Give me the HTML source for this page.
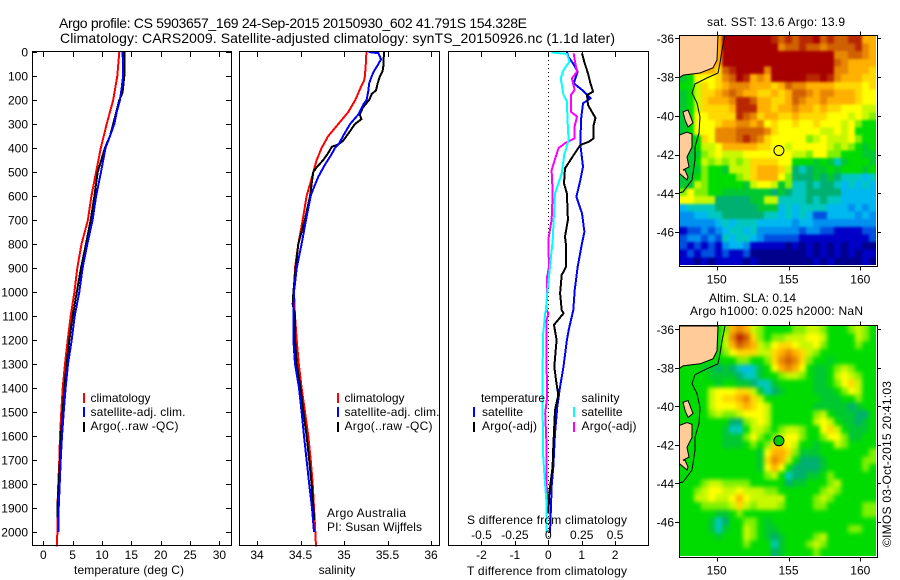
<!DOCTYPE html>
<html lang="en">
<head>
<meta charset="utf-8">
<title>Argo profile chart</title>
<style>
html,body{margin:0;padding:0;background:#fff;}
svg{display:block;}
text{font-family:"Liberation Sans",sans-serif;font-size:12px;fill:#000;}
.ttl{font-size:14px;}
</style>
</head>
<body>
<svg id="root" xmlns="http://www.w3.org/2000/svg" width="900" height="580" viewBox="0 0 900 580">
  <defs>
    <filter id="slaBlur" x="-5%" y="-5%" width="110%" height="110%" color-interpolation-filters="sRGB">
      <feGaussianBlur stdDeviation="2.2"/>
    </filter>
    <filter id="sstBlur" x="-5%" y="-5%" width="110%" height="110%" color-interpolation-filters="sRGB">
      <feGaussianBlur stdDeviation="1.2"/>
    </filter>
    <clipPath id="clipSst"><rect x="680" y="36" width="196" height="229"/></clipPath>
    <clipPath id="clipSla"><rect x="680" y="326" width="196" height="230"/></clipPath>
  </defs>
  <rect x="0" y="0" width="900" height="580" fill="#fff"/>

  <text class="ttl" x="59" y="28" textLength="468">Argo profile: CS 5903657_169 24-Sep-2015 20150930_602 41.791S 154.328E</text>
  <text class="ttl" x="60" y="43" textLength="555">Climatology: CARS2009. Satellite-adjusted climatology: synTS_20150926.nc (1.1d later)</text>

  <g id="panels"></g>

  <text x="74" y="574" textLength="110">temperature (deg C)</text>
  <text x="337" y="574" text-anchor="middle">salinity</text>
  <text x="467" y="575" textLength="160">T difference from climatology</text>
  <text x="467" y="524" textLength="160">S difference from climatology</text>

  <g>
    <rect x="83" y="393" width="2" height="10" fill="#f00"/>
    <text x="90.5" y="402">climatology</text>
    <rect x="83" y="407" width="2" height="10" fill="#00f"/>
    <text x="90.5" y="416" textLength="95">satellite-adj. clim.</text>
    <rect x="83" y="422" width="2" height="10" fill="#000"/>
    <text x="90.5" y="430" textLength="88">Argo(..raw -QC)</text>
  </g>
  <g>
    <rect x="337" y="393" width="2" height="10" fill="#f00"/>
    <text x="344.5" y="402">climatology</text>
    <rect x="337" y="407" width="2" height="10" fill="#00f"/>
    <text x="344.5" y="416" textLength="95">satellite-adj. clim.</text>
    <rect x="337" y="422" width="2" height="10" fill="#000"/>
    <text x="344.5" y="430" textLength="88">Argo(..raw -QC)</text>
  </g>
  <text x="327" y="517" textLength="79">Argo Australia</text>
  <text x="327" y="531" textLength="95">PI: Susan Wijffels</text>

  <g>
    <text x="481" y="402" textLength="64">temperature</text>
    <rect x="473" y="407" width="2" height="10" fill="#00f"/>
    <text x="482" y="416" textLength="41">satellite</text>
    <rect x="473" y="422" width="2" height="10" fill="#000"/>
    <text x="482" y="430" textLength="55">Argo(-adj)</text>
    <text x="581.5" y="402" textLength="38">salinity</text>
    <rect x="573" y="407" width="2" height="10" fill="#0ff"/>
    <text x="581.5" y="416" textLength="41">satellite</text>
    <rect x="573" y="422" width="2" height="10" fill="#f0f"/>
    <text x="581.5" y="430" textLength="55">Argo(-adj)</text>
  </g>

  <g id="maps"></g>

  <text x="707" y="26" textLength="138">sat. SST: 13.6 Argo: 13.9</text>
  <text x="709" y="302" textLength="87">Altim. SLA: 0.14</text>
  <text x="690" y="315" textLength="173">Argo h1000: 0.025 h2000: NaN</text>
  <text transform="translate(891 547) rotate(-90)" textLength="166">©IMOS 03-Oct-2015 20:41:03</text>
</svg>
<script>
const NS = 'http://www.w3.org/2000/svg';

// ---------- profile data ----------
const depthTicks = [0,100,200,300,400,500,600,700,800,900,1000,1100,1200,1300,1400,1500,1600,1700,1800,1900,2000];
const tempTicks = [0,5,10,15,20,25,30];
const salTicks = [34,34.5,35,35.5,36];
const salTickLabels = ['34','34.5','35','35.5','36'];
const tDiffTicks = [-2,-1,0,1,2];
const sDiffTicks = [-0.5,-0.25,0,0.25,0.5];
const sDiffTickLabels = ['-0.5','-0.25','0','0.25','0.5'];

const tempClimDepth = [0,100,200,300,400,500,600,700,800,900,1000,1100,1200,1300,1400,1500,1600,1700,1800,1900,2000,2060];
const tempClimValue = [12.95,12.6,11.9,10.8,9.8,9.0,8.2,7.6,6.5,5.8,5.3,4.67,4.15,3.7,3.3,3.07,2.85,2.72,2.55,2.4,2.4,2.28];
const tempSatDepth = [0,50,100,150,200,250,300,350,400,500,600,700,800,900,1000,1100,1200,1300,1400,1500,1600,1700,1800,1900,2000];
const tempSatValue = [13.5,13.6,13.6,13.35,13.07,12.5,12.1,11.36,10.6,9.83,9,8.4,7.5,6.7,6.13,5.35,4.84,4.2,3.8,3.47,3.19,2.96,2.79,2.62,2.55];
const tempArgoDepth = [0,100,170,200,300,350,400,500,600,700,800,900,1000,1100,1200,1300,1400,1500,1600,1700,1800,1900,1940];
const tempArgoValue = [13.8,13.8,13.5,12.95,11.9,11.36,10.5,9.27,8.7,8.07,7.27,6.42,5.7,5,4.43,3.98,3.58,3.3,3,2.85,2.62,2.4,2.4];

const salClimDepth = [0,50,100,120,150,200,250,300,350,400,450,500,550,600,700,800,900,1000,1100,1200,1300,1400,1500,1600,1700,1800,1900,2000,2060];
const salClimValue = [35.257,35.25,35.24,35.23,35.19,35.13,35.05,34.935,34.82,34.743,34.686,34.647,34.61,34.57,34.525,34.475,34.437,34.425,34.437,34.456,34.48,34.513,34.552,34.59,34.617,34.64,34.655,34.67,34.678];
const salSatDepth = [0,5,30,50,80,100,130,160,200,220,260,300,350,380,400,430,470,520,570,600,700,800,900,1000,1100,1200,1300,1400,1500,1600,1700,1800,1900,2000];
const salSatValue = [35.28,35.395,35.425,35.395,35.345,35.32,35.29,35.28,35.26,35.22,35.165,35.07,34.99,34.946,34.897,34.85,34.78,34.705,34.647,34.617,34.563,34.513,34.456,34.425,34.418,34.418,34.437,34.483,34.513,34.54,34.57,34.6,34.632,34.655];
const salArgoDepth = [0,60,80,100,130,160,175,200,230,260,280,300,340,370,385,395,420,450,480,500,550,600,700,800,900,1000,1050,1100,1200,1300,1400,1500,1600,1700,1800,1900,1950];
const salArgoValue = [35.46,35.452,35.444,35.414,35.387,35.368,35.318,35.29,35.22,35.18,35.2,35.126,35.05,34.99,34.935,34.86,34.82,34.762,34.686,34.647,34.628,34.61,34.55,34.475,34.444,34.418,34.41,34.437,34.437,34.456,34.5,34.533,34.57,34.6,34.628,34.647,34.66];

const dtSatDepth = [0,20,47,82,130,158,193,214,283,387,478,533,603,672,749,797,894,992,1075,1158,1200,1311,1394,1478,1589,1728,1811,1894,2005];
const dtSatValue = [0.556,0.6,0.74,0.88,0.76,1.01,1.26,1.04,0.98,0.96,1.04,0.96,0.84,1.01,1.08,1.01,0.88,0.79,0.75,0.61,0.556,0.455,0.354,0.27,0.2,0.15,0.1,0.08,0.05];
const dtArgoDepth = [5,47,89,130,165,179,221,262,276,304,360,374,387,429,485,547,589,700,769,811,894,929,1006,1075,1089,1137,1200,1311,1367,1429,1492,1644,1728,1839,1922];
const dtArgoValue = [1.01,1.09,1.19,1.26,1.34,1.16,1.19,1.36,1.41,1.36,1.36,1.21,0.96,0.76,0.5,0.47,0.556,0.586,0.5,0.535,0.535,0.4,0.354,0.4,0.455,0.17,0.25,0.18,0.23,0.3,0.2,0.15,0.13,0.03,0];
const dsSatDepth = [2,8,40,75,110,179,207,283,367,429,505,589,672,783,894,1006,1075,1089,1172,1311,1450,1672,1756,1867,2005];
const dsSatValue = [0.025,0.139,0.159,0.114,0.093,0.114,0.139,0.144,0.152,0.119,0.101,0.05,0.043,0.033,0.013,-0.008,-0.018,-0.023,-0.038,-0.043,-0.043,-0.04,-0.03,-0.015,-0.015];
const dsArgoDepth = [5,47,82,110,158,179,249,269,311,360,380,401,436,492,589,700,783,894,936,1075,1089,1117,1172,1311,1436,1506,1644,1783,1894];
const dsArgoValue = [0.189,0.202,0.215,0.177,0.197,0.169,0.169,0.215,0.197,0.197,0.126,0.076,0.056,0.025,0.033,0.025,0,0.005,-0.008,-0.013,0,-0.013,-0.013,-0.013,-0.008,-0.023,-0.013,-0.013,-0.008];

// ---------- map data ----------
const lonTicks = [150,155,160];
const latTicks = [-36,-38,-40,-42,-44,-46];
const argoLon = [154.328];
const argoLat = [-41.791];
const mainlandLon = [147.37,150.09,150.02,149.74,148.84,147.65,147.37];
const mainlandLat = [-35.83,-35.83,-37.12,-37.53,-37.79,-37.9,-38.05];
const tasmaniaLon = [147.37,147.93,148.28,148.28,147.93,148.07,147.65,147.79,148,147.93,147.37];
const tasmaniaLat = [-41,-40.84,-40.94,-41.61,-42.13,-42.64,-42.8,-42.8,-43.16,-43.31,-42.95];
const flindersLon = [147.65,148,148.35,148,147.79];
const flindersLat = [-39.8,-39.7,-40.37,-40.58,-40.2];
const isobathLon = [150.58,150.37,150.23,150.09,149.32,148.49,148.28,148.63,148.84,148.77,148.49,148.49,148.28,147.65,147.37];
const isobathLat = [-35.83,-36.6,-37.27,-37.79,-38.05,-38.36,-38.82,-39.34,-40.06,-40.89,-41.61,-42.28,-43.31,-43.93,-43.98];

// colour classes, index by base-36 code in the grid rows
const paletteColors = ['#00008c','#0000c8','#0050e0','#0090f0','#00b8f0','#00c8c0','#00b070','#00c830','#00dc00','#80f000','#c8f800','#ffff00','#ffd800','#ffb000','#e88800','#d06000','#b82800','#a80000'];

const sstRows = [
'ddddddhhhhhhhgfgfgghfgffggdd',
'ddddddhhhhhhhheffgffeffffged',
'ddddddhhhhhhhhhhhhhhhheeffed',
'ddddddhhhhhhhhhhhhhhhhfedddd',
'dddddcfghhhhehhhhhhhhheedddc',
'78bbbcefhgdedhhhhhgghgedddcc',
'88acbcdeeedddcdfeeddddccccbc',
'78accdefeddccdcdffedeedddcbb',
'78acdddeggfddccdfeddeddddcbb',
'78accccdgggddcddeddcdccbbbaa',
'78bbccccgfecddccdccccbbbaba9',
'78bbbcddeedebcbbcbbcbbbab988',
'78bbbeeeffffecbbbbbbaabab888',
'778cbeeefgfecbbbbb9abaaab988',
'778aabdddddccbbabbbbba9a9878',
'7779abaaabbbbbbbaa9bb9988877',
'778a9a9a9accccbb888787578887',
'77798 87aaacdddca656778788878'.replace(' ','').replace('777988 7','777988'),
'778988889acdddb9666767655545',
'77a9888887abba79556566545454',
'9b99887777777676556666644444',
'bbaaa6666677aa55556565544444',
'4555566666677745455554443434',
'3344556666665545454224444343',
'3333345455544444344333333333',
'1223234554533333323322111122',
'2332325455432222211111111112',
'2121213443111110101010101100',
'1212212112000000001010101011',
'1101011110100000000101000010'
];

const slaRows = [
'8888889deda9888899aa98889a98',
'888888aegfc9899aaabba8888a98',
'888888adfeda9bccbaab98888988',
'8888889bcccaacdedca988888888',
'8888888899889cefec9887888888',
'8887767654578bdedb87789a9888',
'888877776557889aa98778aba988',
'88888788776557888887789bca88',
'8888abbbcca7567888877789ba88',
'8888abccdeca8888888877788988',
'8888abbbcdcba888888777776788',
'88889a99abbba8888889a8777668',
'8888888669aba888888aba877678',
'8888887558aa989aa988bca87778',
'8888887779b989abb9889bb97788',
'8888887778989ccba88788a98888',
'888888888887bddc977788888889',
'888888888887ceda866678888899',
'888888888887bdb8666678888898',
'8888888888889a85667789888888',
'8889aa9999888886778889a88888',
'889abbaabaaa998888889a988888',
'88aabaabdbaaaaa88889a9888888',
'8889999aca9aaa98888998888899',
'8888877898888888888888888899',
'8888756889987888888888888888',
'888875788a987788888888889988',
'888887888a9876788889a8888888',
'8888888889888578889a98888888',
'8888888888888678888988888888'
];

// ---------- axis functions ----------
function yDepth(d){ return 52 + 0.24 * d; }
function xTemp(t){ return 43.3 + 5.87 * t; }
function xSal(s){ return 257 + 87 * (s - 34); }
function xDT(v){ return 548.3 + 33.4 * v; }
function xDS(v){ return 548.3 + 133.6 * v; }
function xLon(lon){ return 716.7 + 14.36 * (lon - 150); }
function ySst(lat){ return 38.3 + 19.37 * (-36 - lat); }
function ySla(lat){ return 329.3 + 19.25 * (-36 - lat); }

const panelsGroup = document.getElementById('panels');
const mapsGroup = document.getElementById('maps');

function mk(parent, tag, name, attrs){
  const el = document.createElementNS(NS, tag);
  
  
  for (const k in attrs) el.setAttribute(k, attrs[k]);
  parent.appendChild(el);
  return el;
}
function label(parent, name, x, y, str, anchor){
  const el = mk(parent, 'text', name, {x: x, y: y, 'text-anchor': anchor || 'middle'});
  el.textContent = str;
  return el;
}
function profile(parent, name, xs, depths, xFn, color, width){
  const pts = xs.map(function(v, i){ return xFn(v).toFixed(1) + ',' + yDepth(depths[i]).toFixed(1); }).join(' ');
  return mk(parent, 'polyline', name, {points: pts, fill: 'none', stroke: color, 'stroke-width': width, 'shape-rendering': 'crispEdges', 'stroke-linejoin': 'miter'});
}
function panel(name){
  return mk(panelsGroup, 'g', name, {});
}
function panelBox(g, x0, x1){
  mk(g, 'rect', 'plot-frame', {x: x0 + .5, y: 51.5, width: x1 - x0, height: 494, fill: 'none', stroke: '#000', 'stroke-width': 1, 'shape-rendering': 'crispEdges'});
}
function xTickMarks(g, positions){
  positions.forEach(function(px){
    const p = Math.round(px) + .5;
    mk(g, 'line', 'x-tick-top', {x1: p, x2: p, y1: 52, y2: 57, stroke: '#000', 'shape-rendering': 'crispEdges'});
    mk(g, 'line', 'x-tick-bottom', {x1: p, x2: p, y1: 541, y2: 546, stroke: '#000', 'shape-rendering': 'crispEdges'});
  });
}

// ---------- temperature panel ----------
const pT = panel('temperature-panel');
profile(pT, 'temperature-climatology-line', tempClimValue, tempClimDepth, xTemp, '#f00', 2);
profile(pT, 'temperature-argo-line', tempArgoValue, tempArgoDepth, xTemp, '#000', 2);
profile(pT, 'temperature-satellite-line', tempSatValue, tempSatDepth, xTemp, '#00f', 2);
panelBox(pT, 32, 231);
xTickMarks(pT, tempTicks.map(xTemp));
tempTicks.forEach(function(t){
  label(pT, 'temperature-tick-label', xTemp(t), 559, String(t));
});
depthTicks.forEach(function(d){
  const p = Math.round(yDepth(d)) + .5;
  mk(pT, 'line', 'depth-tick-left', {x1: 32, x2: 37, y1: p, y2: p, stroke: '#000', 'shape-rendering': 'crispEdges'});
  mk(pT, 'line', 'depth-tick-right', {x1: 226, x2: 231, y1: p, y2: p, stroke: '#000', 'shape-rendering': 'crispEdges'});
  label(pT, 'depth-tick-label', 28, yDepth(d) + 4.5, String(d), 'end');
});

// ---------- salinity panel ----------
const pS = panel('salinity-panel');
profile(pS, 'salinity-climatology-line', salClimValue, salClimDepth, xSal, '#f00', 2);
profile(pS, 'salinity-argo-line', salArgoValue, salArgoDepth, xSal, '#000', 2);
profile(pS, 'salinity-satellite-line', salSatValue, salSatDepth, xSal, '#00f', 2);
panelBox(pS, 239, 439);
xTickMarks(pS, salTicks.map(xSal));
salTicks.forEach(function(s, i){
  label(pS, 'salinity-tick-label', xSal(s), 559, salTickLabels[i]);
});

// ---------- difference panel ----------
const pD = panel('difference-panel');
mk(pD, 'line', 'zero-reference-line', {x1: 548.5, x2: 548.5, y1: 52, y2: 545, stroke: '#000', 'stroke-dasharray': '1 3', 'shape-rendering': 'crispEdges'});
profile(pD, 'dt-satellite-line', dtSatValue, dtSatDepth, xDT, '#00f', 2);
profile(pD, 'dt-argo-line', dtArgoValue, dtArgoDepth, xDT, '#000', 2);
profile(pD, 'ds-argo-line', dsArgoValue, dsArgoDepth, xDS, '#f0f', 2);
profile(pD, 'ds-satellite-line', dsSatValue, dsSatDepth, xDS, '#0ff', 2);
panelBox(pD, 448, 648);
xTickMarks(pD, tDiffTicks.map(xDT));
tDiffTicks.forEach(function(v){
  label(pD, 't-difference-tick-label', xDT(v), 559, String(v));
});
sDiffTicks.forEach(function(v, i){
  label(pD, 's-difference-tick-label', xDS(v), 539, sDiffTickLabels[i]);
});

// ---------- maps ----------
function poly(parent, name, lons, lats, yFn, fill, stroke){
  const pts = lons.map(function(v, i){ return xLon(v).toFixed(1) + ',' + yFn(lats[i]).toFixed(1); }).join(' ');
  return mk(parent, 'polygon', name, {points: pts, fill: fill, stroke: stroke, 'stroke-width': 1});
}
function drawMap(cfg){
  const g = mk(mapsGroup, 'g', cfg.name, {});
  const clip = mk(g, 'g', 'map-image', {'clip-path': cfg.clip});
  const cells = mk(clip, 'g', 'heatmap-cells', {filter: cfg.blur});
  const cw = 0.4875 * 14.36 + .6;
  const ch = cfg.dLat * cfg.scale + .6;
  cfg.rows.forEach(function(row, j){
    for (let i = 0; i < row.length; i++){
      const lon = 147.45 + i * 0.4875;
      const lat = cfg.lat0 - j * cfg.dLat;
      // edge cells run past the clip so the blur does not fade at the frame
      const padL = i === 0 ? 10 : 0, padR = i === row.length - 1 ? 10 : 0;
      const padT = j === 0 ? 10 : 0, padB = j === cfg.rows.length - 1 ? 10 : 0;
      mk(cells, 'rect', 'heatmap-cell', {
        x: (xLon(lon) - padL).toFixed(1), y: (cfg.y(lat) - padT).toFixed(1),
        width: (cw + padL + padR).toFixed(1),
        height: (ch + padT + padB).toFixed(1),
        fill: paletteColors[parseInt(row[i], 36)],
        'shape-rendering': 'crispEdges'
      });
    }
  });
  poly(clip, 'mainland-land', mainlandLon, mainlandLat, cfg.y, '#ffcc99', '#000');
  poly(clip, 'tasmania-land', tasmaniaLon, tasmaniaLat, cfg.y, '#ffcc99', '#000');
  poly(clip, 'flinders-island-land', flindersLon, flindersLat, cfg.y, '#ffcc99', '#000');
  const iso = isobathLon.map(function(v, i){ return xLon(v).toFixed(1) + ',' + cfg.y(isobathLat[i]).toFixed(1); }).join(' ');
  mk(clip, 'polyline', 'isobath-contour', {points: iso, fill: 'none', stroke: '#000', 'stroke-width': 1});
  mk(g, 'circle', 'argo-float-marker', {cx: xLon(argoLon[0]).toFixed(1), cy: cfg.y(argoLat[0]).toFixed(1), r: 5, fill: cfg.marker, stroke: '#000', 'stroke-width': 1});
  const yTop = cfg.top - .5, yBot = cfg.top + cfg.h + 1.5;
  mk(g, 'rect', 'map-frame', {x: 679.5, y: yTop, width: 198, height: yBot - yTop, fill: 'none', stroke: '#000', 'shape-rendering': 'crispEdges'});
  lonTicks.forEach(function(lon){
    const p = Math.round(xLon(lon)) + .5;
    mk(g, 'line', 'lon-tick-top', {x1: p, x2: p, y1: yTop - 4, y2: yTop, stroke: '#000', 'shape-rendering': 'crispEdges'});
    mk(g, 'line', 'lon-tick-bottom', {x1: p, x2: p, y1: yBot, y2: yBot + 4, stroke: '#000', 'shape-rendering': 'crispEdges'});
    label(g, 'longitude-tick-label', xLon(lon), yBot + 17, String(lon));
  });
  latTicks.forEach(function(lat){
    const p = Math.round(cfg.y(lat)) + .5;
    mk(g, 'line', 'lat-tick-left', {x1: 675, x2: 679.5, y1: p, y2: p, stroke: '#000', 'shape-rendering': 'crispEdges'});
    mk(g, 'line', 'lat-tick-right', {x1: 877.5, x2: 881, y1: p, y2: p, stroke: '#000', 'shape-rendering': 'crispEdges'});
    label(g, 'latitude-tick-label', 674, cfg.y(lat) + 4.5, String(lat), 'end');
  });
}
drawMap({name: 'sst-map', rows: sstRows, top: 36, h: 229, y: ySst, scale: 19.37, lat0: -35.88, dLat: 0.394, clip: 'url(#clipSst)', blur: 'url(#sstBlur)', marker: 'none'});
drawMap({name: 'sla-map', rows: slaRows, top: 326, h: 230, y: ySla, scale: 19.25, lat0: -35.83, dLat: 0.398, clip: 'url(#clipSla)', blur: 'url(#slaBlur)', marker: '#00cc00'});
</script>
</body>
</html>
